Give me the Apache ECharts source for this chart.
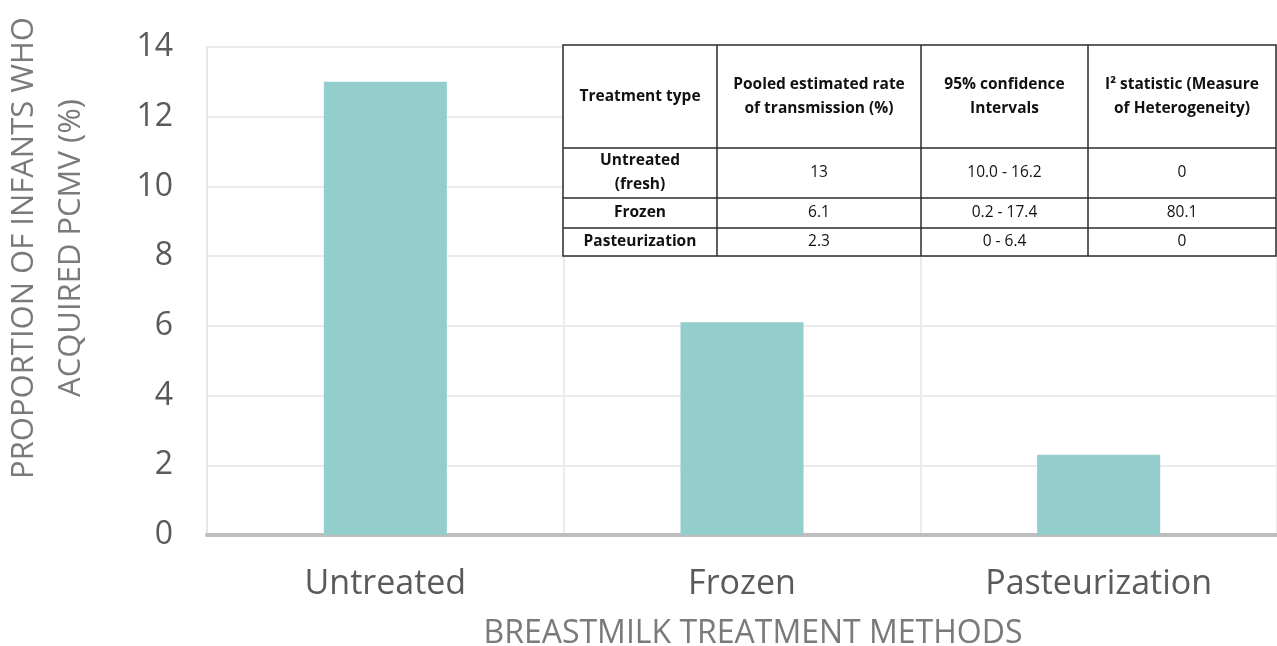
<!DOCTYPE html>
<html>
<head>
<meta charset="utf-8">
<title>pCMV transmission by breastmilk treatment</title>
<script src="https://cdn.jsdelivr.net/npm/echarts@6/dist/echarts.min.js"></script>
<style>
  html, body { margin: 0; padding: 0; background: #fff; }
  #chart { width: 1277px; height: 646px; }
</style>
</head>
<body>
<div id="chart"></div>
<script>
// chart data
const categories = ['Untreated', 'Frozen', 'Pasteurization']
const transmissionRates = [13, 6.1, 2.3]
const yTicks = { min: 0, max: 14, interval: 2 }

// inset table data
const tableHeader = [
  'Treatment type',
  'Pooled estimated rate\nof transmission (%)',
  '95% confidence\nIntervals',
  'I² statistic (Measure\nof Heterogeneity)'
]
const tableTreatments = ['Untreated\n(fresh)', 'Frozen', 'Pasteurization']
const tablePooled = ['13', '6.1', '2.3']
const tableCI = ['10.0 - 16.2', '0.2 - 17.4', '0 - 6.4']
const tableI2 = ['0', '80.1', '0']

// table layout
const colX = [563, 717, 921, 1088, 1276]
const rowY = [45, 148, 198, 228, 256]
const tableFont = '"Open Sans", "Liberation Sans", sans-serif'

const buildTable = () => {
  const els = []
  els.push({
    type: 'rect',
    shape: { x: colX[0], y: rowY[0], width: colX[4] - colX[0], height: rowY[4] - rowY[0] },
    style: { fill: '#fff', stroke: '#2b2b2b', lineWidth: 1.5 },
    z: 10
  })
  colX.slice(1, -1).forEach(x => {
    els.push({ type: 'line', shape: { x1: x, y1: rowY[0], x2: x, y2: rowY[4] }, style: { stroke: '#2b2b2b', lineWidth: 1.5 }, z: 11 })
  })
  rowY.slice(1, -1).forEach(y => {
    els.push({ type: 'line', shape: { x1: colX[0], y1: y, x2: colX[4], y2: y }, style: { stroke: '#2b2b2b', lineWidth: 1.5 }, z: 11 })
  })
  const cell = (text, c, r, bold) => ({
    type: 'text',
    x: (colX[c] + colX[c + 1]) / 2,
    y: (rowY[r] + rowY[r + 1]) / 2,
    style: {
      text,
      align: 'center',
      verticalAlign: 'middle',
      font: (bold ? 'bold ' : '') + '15.5px ' + tableFont,
      lineHeight: 24,
      fill: '#111'
    },
    z: 12
  })
  tableHeader.forEach((t, c) => els.push(cell(t, c, 0, true)))
  tableTreatments.forEach((t, i) => {
    els.push(cell(t, 0, i + 1, true))
    els.push(cell(tablePooled[i], 1, i + 1, false))
    els.push(cell(tableCI[i], 2, i + 1, false))
    els.push(cell(tableI2[i], 3, i + 1, false))
  })
  return els
}

const chart = echarts.init(document.getElementById('chart'))

chart.setOption({
  animation: false,
  textStyle: { fontFamily: '"Open Sans", sans-serif' },
  grid: { left: 207, right: 0, top: 47, bottom: 111, outerBoundsMode: 'none', containLabel: false },
  xAxis: {
    type: 'category',
    data: categories,
    name: 'BREASTMILK TREATMENT METHODS',
    nameLocation: 'middle',
    nameGap: 83,
    nameTextStyle: { fontSize: 32, color: '#7a7a7a', padding: [0, 0, 0, 22] },
    axisLine: { lineStyle: { color: '#bdbdbd', width: 4 } },
    axisTick: { show: false },
    axisLabel: { fontSize: 34, color: '#5a5a5a', margin: 32 },
    splitLine: { show: true, lineStyle: { color: '#ebebeb', width: 2 } }
  },
  yAxis: {
    type: 'value',
    min: yTicks.min,
    max: yTicks.max,
    interval: yTicks.interval,
    name: 'PROPORTION OF INFANTS WHO\nACQUIRED PCMV (%)',
    nameLocation: 'middle',
    nameRotate: 90,
    nameGap: 112,
    nameTextStyle: { fontSize: 31, color: '#7a7a7a', lineHeight: 47, padding: [0, 0, 0, 86] },
    axisLine: { show: true, lineStyle: { color: '#e6e6e6', width: 2 } },
    axisTick: { show: false },
    axisLabel: { fontSize: 32, color: '#5a5a5a', margin: 34 },
    splitLine: { lineStyle: { color: '#ebebeb', width: 2 } }
  },
  series: [
    {
      type: 'bar',
      data: transmissionRates,
      barWidth: '34.5%',
      itemStyle: { color: '#94cecc' }
    }
  ],
  graphic: buildTable()
})
</script>
</body>
</html>
